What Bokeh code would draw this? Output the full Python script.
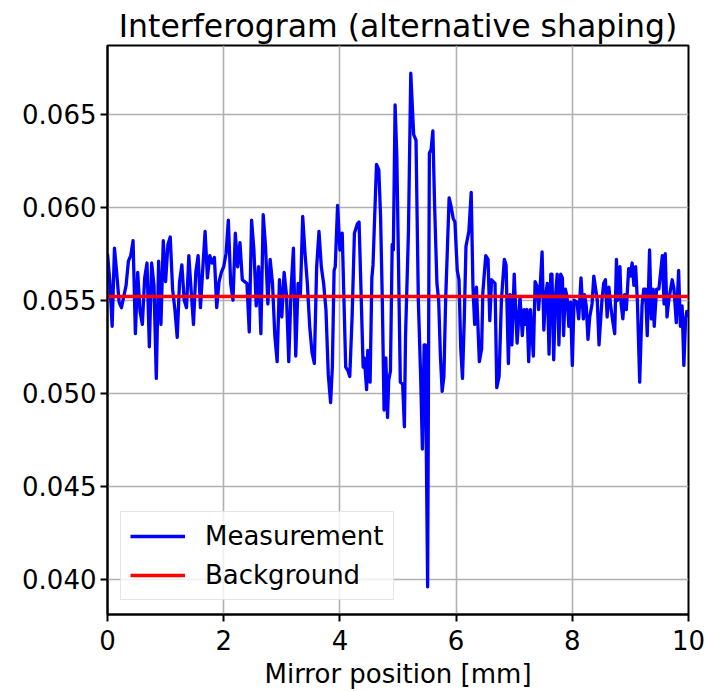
from bokeh.plotting import figure
from bokeh.models import (Range1d, FixedTicker, PrintfTickFormatter, Legend,
                          LegendItem, ColumnDataSource)
from bokeh.embed import file_html
from bokeh.resources import INLINE

# ---- data ----
position_mm = [
    0.00, 0.04, 0.08, 0.12, 0.16, 0.20, 0.24, 0.28, 0.32, 0.36,
    0.40, 0.44, 0.48, 0.52, 0.56, 0.60, 0.64, 0.68, 0.72, 0.76,
    0.80, 0.84, 0.88, 0.92, 0.96, 1.00, 1.04, 1.08, 1.12, 1.16,
    1.20, 1.24, 1.28, 1.32, 1.36, 1.40, 1.44, 1.48, 1.52, 1.56,
    1.60, 1.64, 1.68, 1.72, 1.76, 1.80, 1.84, 1.88, 1.92, 1.96,
    2.00, 2.04, 2.08, 2.12, 2.16, 2.20, 2.24, 2.28, 2.32, 2.36,
    2.40, 2.44, 2.48, 2.52, 2.56, 2.60, 2.64, 2.68, 2.72, 2.76,
    2.80, 2.84, 2.88, 2.92, 2.96, 3.00, 3.04, 3.08, 3.12, 3.16,
    3.20, 3.24, 3.28, 3.32, 3.36, 3.40, 3.44, 3.48, 3.52, 3.56,
    3.60, 3.64, 3.68, 3.72, 3.76, 3.80,
    3.84, 3.87, 3.90, 3.92, 3.96, 4.00, 4.04, 4.07, 4.10, 4.14,
    4.17, 4.21, 4.25, 4.30, 4.33, 4.36, 4.40, 4.42, 4.46, 4.48,
    4.52, 4.55, 4.57, 4.63, 4.67, 4.70, 4.73, 4.76, 4.79, 4.82,
    4.84, 4.87, 4.90, 4.92, 4.95, 4.98, 5.00, 5.04, 5.08, 5.11,
    5.13, 5.18, 5.22, 5.27, 5.31, 5.35, 5.39, 5.42, 5.45, 5.47,
    5.51, 5.54, 5.57, 5.60, 5.63, 5.67, 5.70, 5.73, 5.76, 5.79,
    5.82, 5.88, 5.91, 5.95, 5.98, 6.02, 6.05, 6.08, 6.11, 6.14,
    6.17, 6.22, 6.26, 6.29, 6.32, 6.35, 6.40, 6.44, 6.46, 6.51,
    6.55, 6.58, 6.61, 6.67, 6.70, 6.74, 6.78, 6.83, 6.86, 6.90,
    6.93, 6.96, 7.00, 7.05, 7.10, 7.14, 7.17, 7.19, 7.22, 7.25,
    7.28, 7.33, 7.36, 7.40, 7.42, 7.45, 7.48, 7.51, 7.54, 7.57,
    7.60, 7.63, 7.65, 7.68, 7.71, 7.74, 7.77, 7.80, 7.83, 7.85,
    7.88, 7.91, 7.94, 7.97, 8.00, 8.03, 8.08, 8.11, 8.15, 8.19,
    8.21, 8.24, 8.27, 8.30, 8.34, 8.37, 8.43, 8.46, 8.51, 8.54,
    8.57, 8.60, 8.63, 8.66, 8.70, 8.73, 8.76, 8.78, 8.82, 8.84,
    8.87, 8.90, 8.93, 8.97, 9.00, 9.03, 9.06, 9.09, 9.12, 9.16,
    9.20, 9.23, 9.26, 9.29, 9.33, 9.36, 9.39, 9.41, 9.45, 9.49,
    9.55, 9.58, 9.60, 9.63, 9.66, 9.72, 9.75, 9.79, 9.83, 9.86,
    9.89, 9.92, 9.95, 9.97, 10.00,
]

measurement = [
    0.0575, 0.0560, 0.0536, 0.0578, 0.0564, 0.0549, 0.0546, 0.0552, 0.0558, 0.0571,
    0.0574, 0.0582, 0.0532, 0.0565, 0.0544, 0.0537, 0.0562, 0.0570, 0.0525, 0.0570,
    0.0558, 0.0508, 0.0571, 0.0537, 0.0582, 0.0560, 0.0580, 0.0584, 0.0556, 0.0545,
    0.0530, 0.0560, 0.0569, 0.0550, 0.0546, 0.0574, 0.0555, 0.0537, 0.0565, 0.0574,
    0.0546, 0.0567, 0.0587, 0.0562, 0.0574, 0.0570, 0.0573, 0.0546, 0.0560, 0.0565,
    0.0568, 0.0575, 0.0593, 0.0559, 0.0550, 0.0586, 0.0568, 0.0581, 0.0561, 0.0560,
    0.0559, 0.0533, 0.0593, 0.0577, 0.0547, 0.0568, 0.0532, 0.0596, 0.0579, 0.0548,
    0.0572, 0.0559, 0.0531, 0.0517, 0.0561, 0.0541, 0.0565, 0.0553, 0.0517, 0.0556,
    0.0578, 0.0520, 0.0559, 0.0553, 0.0595, 0.0575, 0.0559, 0.0536, 0.0522, 0.0516,
    0.0568, 0.0587, 0.0568, 0.0559, 0.0545, 0.0510,
    0.0495, 0.0514, 0.0566, 0.0568, 0.0601, 0.0577, 0.0586, 0.0550, 0.0514, 0.0512,
    0.0509, 0.0541, 0.0586, 0.0591, 0.0592, 0.0559, 0.0514, 0.0519, 0.0502, 0.0523,
    0.0506, 0.0562, 0.0569, 0.0623, 0.0620, 0.0595, 0.0550, 0.0491, 0.0519, 0.0487,
    0.0507, 0.0512, 0.0580, 0.0577, 0.0655, 0.0627, 0.0587, 0.0506, 0.0505, 0.0482,
    0.0531, 0.0587, 0.0672, 0.0639, 0.0636, 0.0550, 0.0509, 0.0470, 0.0526, 0.0526,
    0.0396, 0.0629, 0.0631, 0.0641, 0.0601, 0.0559, 0.0550, 0.0520, 0.0501, 0.0509,
    0.0550, 0.0605, 0.0601, 0.0594, 0.0592, 0.0566, 0.0561, 0.0524, 0.0508, 0.0539,
    0.0579, 0.0587, 0.0608, 0.0557, 0.0537, 0.0557, 0.0517, 0.0524, 0.0554, 0.0574,
    0.0572, 0.0539, 0.0561, 0.0559, 0.0503, 0.0509, 0.0550, 0.0572, 0.0569, 0.0516,
    0.0553, 0.0526, 0.0564, 0.0527, 0.0552, 0.0531, 0.0545, 0.0537, 0.0545, 0.0517,
    0.0545, 0.0520, 0.0560, 0.0557, 0.0545, 0.0559, 0.0576, 0.0534, 0.0552, 0.0559,
    0.0521, 0.0564, 0.0564, 0.0518, 0.0552, 0.0564, 0.0526, 0.0564, 0.0562, 0.0531,
    0.0556, 0.0552, 0.0536, 0.0549, 0.0515, 0.0550, 0.0549, 0.0540, 0.0562, 0.0540,
    0.0553, 0.0547, 0.0529, 0.0541, 0.0548, 0.0563, 0.0550, 0.0526, 0.0550, 0.0559,
    0.0561, 0.0541, 0.0557, 0.0547, 0.0538, 0.0532, 0.0572, 0.0550, 0.0568, 0.0548,
    0.0540, 0.0553, 0.0545, 0.0567, 0.0563, 0.0570, 0.0558, 0.0568, 0.0550, 0.0506,
    0.0547, 0.0556, 0.0556, 0.0531, 0.0577, 0.0540, 0.0556, 0.0536, 0.0556, 0.0556,
    0.0574, 0.0548, 0.0575, 0.0541, 0.0550, 0.0561, 0.0556, 0.0538, 0.0566, 0.0536,
    0.0547, 0.0515, 0.0540, 0.0544, 0.0541,
]

background_x = [0.0, 10.0]
background_y = [0.0552, 0.0552]

x_ticks = [0, 2, 4, 6, 8, 10]
y_ticks = [0.040, 0.045, 0.050, 0.055, 0.060, 0.065]

title_text = "Interferogram (alternative shaping)"
x_label = "Mirror position [mm]"
series_labels = ["Measurement", "Background"]

FONT = "DejaVu Sans"

p = figure(width=705, height=691, output_backend="svg", toolbar_location=None,
           x_range=Range1d(0, 10), y_range=Range1d(0.03811, 0.06869),
           min_border_left=107, min_border_right=17,
           min_border_top=45, min_border_bottom=77)

p.background_fill_color = "white"
p.border_fill_color = "white"
p.outline_line_color = "black"
p.outline_line_width = 2
p.outline_line_alpha = 1

# title
p.title.text = title_text
p.title.align = "center"
p.title.text_font = FONT
p.title.text_font_size = "31.5px"
p.title.text_font_style = "normal"
p.title.text_color = "black"
p.title.standoff = 4

# axes
for ax in (p.xaxis[0], p.yaxis[0]):
    ax.axis_line_color = "black"
    ax.axis_line_width = 2
    ax.major_tick_line_color = "black"
    ax.major_tick_line_width = 2
    ax.major_tick_out = 7
    ax.major_tick_in = 0
    ax.minor_tick_line_color = None
    ax.major_label_text_font = FONT
    ax.major_label_text_font_size = "26px"
    ax.major_label_text_color = "black"
    ax.major_label_standoff = 4
p.xaxis.major_label_standoff = 8

p.xaxis.ticker = FixedTicker(ticks=x_ticks)
p.yaxis.ticker = FixedTicker(ticks=y_ticks)
p.yaxis.formatter = PrintfTickFormatter(format="%.3f")
p.xaxis.axis_label = x_label
p.xaxis.axis_label_text_font = FONT
p.xaxis.axis_label_text_font_size = "26px"
p.xaxis.axis_label_text_font_style = "normal"
p.xaxis.axis_label_text_color = "black"
p.xaxis.axis_label_standoff = 6

# grid
for g in (p.xgrid[0], p.ygrid[0]):
    g.grid_line_color = "#b0b0b0"
    g.grid_line_width = 1.6
p.xgrid.ticker = FixedTicker(ticks=x_ticks)
p.ygrid.ticker = FixedTicker(ticks=y_ticks)

src = ColumnDataSource(data=dict(x=position_mm, y=measurement))
r_meas = p.line("x", "y", source=src, line_color="blue", line_width=3.3,
                line_join="round")
r_bg = p.line(background_x, background_y, line_color="red", line_width=3.3)

legend = Legend(items=[LegendItem(label=series_labels[0], renderers=[r_meas]),
                       LegendItem(label=series_labels[1], renderers=[r_bg])],
                location=(13, 14))
legend.label_text_font = FONT
legend.label_text_font_size = "26px"
legend.label_text_color = "black"
legend.glyph_width = 55
legend.glyph_height = 30
legend.label_height = 30
legend.label_standoff = 20
legend.spacing = 9
legend.padding = 9
legend.margin = 0
legend.border_line_color = "#cccccc"
legend.border_line_width = 1.5
legend.background_fill_alpha = 0.8
p.add_layout(legend)

open("out.html", "w").write(file_html(p, INLINE))
